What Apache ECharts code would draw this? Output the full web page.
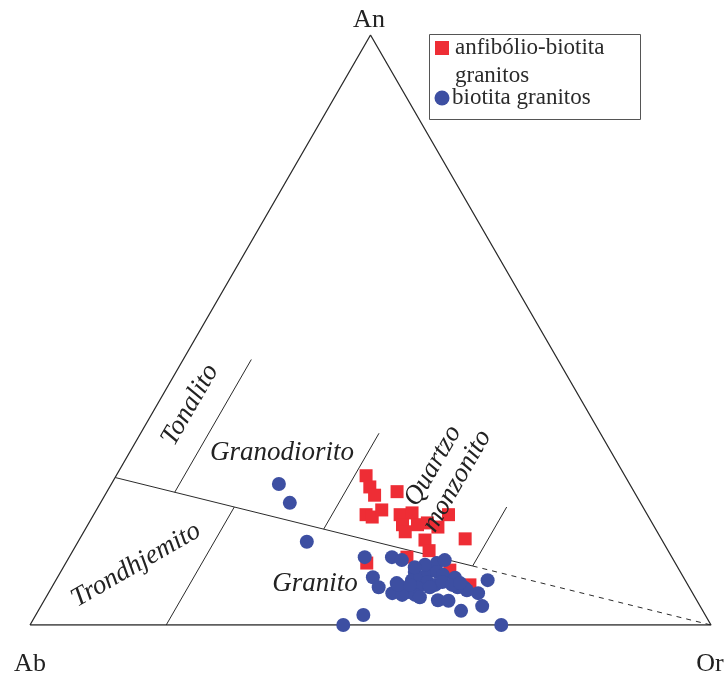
<!DOCTYPE html>
<html>
<head>
<meta charset="utf-8">
<script src="https://cdn.jsdelivr.net/npm/echarts@6/dist/echarts.min.js"></script>
<style>
  html, body { margin: 0; padding: 0; background: #ffffff; }
  #chart { width: 728px; height: 677px; }
</style>
</head>
<body>
<div id="chart"></div>
<script>
// An–Ab–Or normative feldspar triangle (values in %, Ab = 100 − An − Or)
const cornerLabels = ['Ab', 'Or', 'An'];
const seriesNames = ['anfibólio-biotita granitos', 'biotita granitos'];

// anfibólio-biotita granitos
const amphAn = [25.3, 23.4, 22.0, 22.6, 18.7, 18.3, 19.5, 18.7, 19.0, 17.0, 15.8,
                17.0, 17.3, 16.6, 18.7, 14.6, 14.4, 12.6, 11.5, 10.5, 9.3, 6.8];
const amphOr = [36.7, 38.2, 39.6, 42.6, 40.0, 41.1, 41.9, 45.0, 46.6, 46.2, 47.2,
                48.4, 49.7, 51.6, 52.1, 56.6, 50.8, 52.3, 49.6, 44.2, 57.0, 61.2];

// biotita granitos
const bioAn = [23.9, 20.7, 14.1, 11.5, 8.1, 6.4, 11.5, 11.0, 5.4, 7.1,
               9.0, 7.6, 8.0, 9.0, 10.5, 11.0, 9.0, 8.5, 8.0, 6.4,
               6.3, 7.3, 6.3, 5.6, 5.1, 5.1, 6.8, 7.3, 6.8, 4.2,
               4.1, 5.4, 7.6, 3.2, 2.4, 1.7, 0.0, 0.0, 6.8, 6.8,
               6.4, 4.7, 5.9, 7.1, 10.2, 9.8];
const bioOr = [24.6, 27.8, 33.6, 43.4, 46.3, 48.0, 47.4, 49.1, 50.5, 50.3,
               52.0, 52.3, 53.3, 54.0, 54.5, 55.4, 55.3, 56.4, 58.4, 59.6,
               60.7, 54.7, 53.8, 52.7, 52.1, 54.0, 56.1, 56.9, 58.6, 57.8,
               59.4, 63.1, 63.4, 64.8, 62.1, 48.1, 46.0, 69.2, 50.7, 52.4,
               55.5, 54.9, 61.2, 59.6, 52.9, 51.6];

// Field boundaries as [An, Or] end points
const triangleOutline = [[0, 0], [0, 100], [100, 0], [0, 0]];
const mainBoundary = [[25, 0], [10, 60]];
const mainBoundaryDashed = [[10, 60], [0, 100]];
const tonalitoBoundary = [[22.5, 10], [45, 10]];
const trondhjemitoBoundary = [[0, 20], [20, 20]];
const granodioritoBoundary = [[16.25, 35], [32.5, 35]];
const quartzoMonzonitoBoundary = [[10, 60], [20, 60]];

const H = Math.sqrt(3) / 2;
function toXY(an, or) {
  return [or / 100 + an / 200, (an / 100) * H];
}
function path(pairs) {
  return pairs.map(p => toXY(p[0], p[1]));
}

const INK = '#2b2b2b';
const RED = '#ee2d35';
const BLUE = '#3d4fa2';

function boundary(pairs, width, dashed) {
  return {
    type: 'line',
    data: path(pairs),
    symbol: 'none',
    silent: true,
    z: 1,
    lineStyle: { color: INK, width: width, type: dashed ? [5, 5] : 'solid' }
  };
}

const chart = echarts.init(document.getElementById('chart'), null, { renderer: 'canvas' });

const labelFont = "italic 27px 'Liberation Serif', serif";
const cornerFont = "26px 'Liberation Serif', serif";
const legendFont = "23px 'Liberation Serif', serif";

function fieldLabel(text, x, y, deg) {
  return {
    type: 'text', x: x, y: y, rotation: (deg || 0) * Math.PI / 180, z: 5,
    style: { text: text, font: labelFont, fill: '#222', align: 'center', verticalAlign: 'middle' }
  };
}
function cornerLabel(text, x, y) {
  return {
    type: 'text', x: x, y: y, z: 5,
    style: { text: text, font: cornerFont, fill: '#222', align: 'center', verticalAlign: 'middle' }
  };
}
function legendText(text, x, y) {
  return {
    type: 'text', x: x, y: y, z: 11,
    style: { text: text, font: legendFont, fill: '#2a2a2a', align: 'left', verticalAlign: 'middle' }
  };
}

const legendLines = seriesNames[0].split(' ');

chart.setOption({
  animation: false,
  backgroundColor: '#ffffff',
  grid: { left: 30, right: 17, top: 35, bottom: 52 },
  xAxis: { type: 'value', min: 0, max: 1, show: false },
  yAxis: { type: 'value', min: 0, max: H, show: false },
  series: [
    boundary(triangleOutline, 1.3, false),
    boundary(mainBoundary, 1, false),
    boundary(mainBoundaryDashed, 1, true),
    boundary(tonalitoBoundary, 1, false),
    boundary(trondhjemitoBoundary, 1, false),
    boundary(granodioritoBoundary, 1, false),
    boundary(quartzoMonzonitoBoundary, 1, false),
    {
      name: seriesNames[0],
      type: 'scatter',
      symbol: 'rect',
      symbolSize: 13,
      z: 3,
      itemStyle: { color: RED, opacity: 1 },
      data: amphAn.map((a, i) => toXY(a, amphOr[i]))
    },
    {
      name: seriesNames[1],
      type: 'scatter',
      symbol: 'circle',
      symbolSize: 14,
      z: 4,
      itemStyle: { color: BLUE, opacity: 1 },
      data: bioAn.map((a, i) => toXY(a, bioOr[i]))
    }
  ],
  graphic: [
    cornerLabel(cornerLabels[2], 369, 20),
    cornerLabel(cornerLabels[0], 30, 664),
    cornerLabel(cornerLabels[1], 710, 664),
    fieldLabel('Tonalito', 190, 405, 60),
    fieldLabel('Granodiorito', 282, 453, 0),
    fieldLabel('Trondhjemito', 136, 565, 30),
    fieldLabel('Granito', 315, 584, 0),
    fieldLabel('Quartzo', 433, 466, 60),
    fieldLabel('monzonito', 457, 481, 60),
    {
      type: 'rect', z: 10,
      shape: { x: 429.5, y: 34.5, width: 211, height: 85 },
      style: { fill: '#ffffff', stroke: '#555555', lineWidth: 1 }
    },
    {
      type: 'rect', z: 11,
      shape: { x: 435, y: 41, width: 14, height: 14 },
      style: { fill: RED }
    },
    {
      type: 'circle', z: 11,
      shape: { cx: 442, cy: 98, r: 7.5 },
      style: { fill: BLUE }
    },
    legendText(legendLines[0], 455, 48),
    legendText(legendLines[1], 455, 76),
    legendText(seriesNames[1], 452, 98)
  ]
});
</script>
</body>
</html>
